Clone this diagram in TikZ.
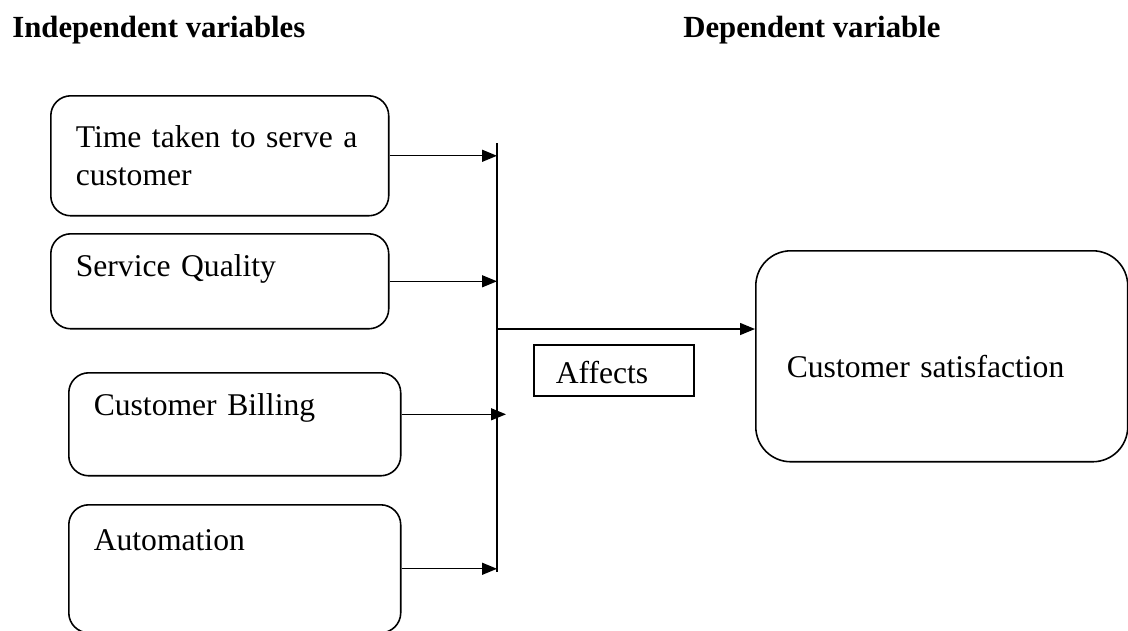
\documentclass[tikz,border=0pt]{standalone}
\usepackage{fontspec}
\setmainfont{Liberation Serif}
\usetikzlibrary{arrows.meta, positioning, calc}
\tikzstyle{varbox} = [rectangle, rounded corners=0.4cm, draw=black, line width=0.9pt, anchor=north west, align=left, inner xsep=0.5cm, inner ysep=0pt, font=\fontsize{18}{21.6}\selectfont]
\tikzstyle{labelbox} = [rectangle, draw=black, line width=0.9pt, anchor=north west, align=left, inner ysep=0pt, font=\fontsize{18}{21.6}\selectfont]
\tikzstyle{heading} = [anchor=base west, inner sep=0pt, font=\fontsize{17.5}{21}\selectfont\bfseries]
\tikzstyle{arrow} = [line width=0.8pt, -{Triangle[length=0.3cm, width=0.24cm]}]
\tikzstyle{bar} = [line width=0.8pt]

\begin{document}
\begin{tikzpicture}[x=0.02cm, y=-0.02cm]
\useasboundingbox (0,0) rectangle (1128,630);
\clip (0,0) rectangle (1128,630);

% Headings
\node[heading] (ind_head) at (12,37) {Independent variables};
\node[heading] (dep_head) at (683,37) {Dependent variable};

% Independent variables
\node[varbox, minimum width=6.76cm, minimum height=2.4cm, text width=5.76cm] (ind_time) at (50,95) {Time taken to serve a\\customer};
\node[varbox, minimum width=6.76cm, text width=5.76cm, text height=0.86cm, text depth=1.04cm] (ind_quality) at (50,233) {Service Quality};
\node[varbox, minimum width=6.64cm, text width=5.64cm, text height=0.86cm, text depth=1.2cm] (ind_billing) at (68,372) {Customer Billing};
\node[varbox, minimum width=6.64cm, text width=5.64cm, text height=0.92cm, text depth=1.64cm] (ind_auto) at (68,504) {Automation};

% Dependent variable
\node[varbox, rounded corners=0.7cm, minimum width=7.44cm, inner xsep=0.62cm, text width=6.2cm, text height=2.54cm, text depth=1.68cm] (dep_sat) at (755,250) {Customer satisfaction};

% Joining bar
\coordinate (bar_top) at (497,143);
\coordinate (bar_bot) at (497,572);
\coordinate (bar_mid) at (497,329);
\draw[bar] (bar_top) -- (bar_bot);

\draw[arrow] (ind_time.east) -- (ind_time.east -| bar_top);
\draw[arrow] (ind_quality.east) -- (ind_quality.east -| bar_top);
\draw[arrow] ([yshift=0.2cm]ind_billing.east) -- ([xshift=0.18cm, yshift=0.2cm]ind_billing.east -| bar_top);
\draw[arrow] (ind_auto.east) -- (ind_auto.east -| bar_top);

\draw[arrow] (bar_mid) -- (bar_mid -| dep_sat.west);

% Label
\node[labelbox, minimum width=3.2cm, inner xsep=0.44cm, text width=2.32cm, text height=0.78cm, text depth=0.24cm] (affects) at (533,344) {Affects};

\end{tikzpicture}
\end{document}
